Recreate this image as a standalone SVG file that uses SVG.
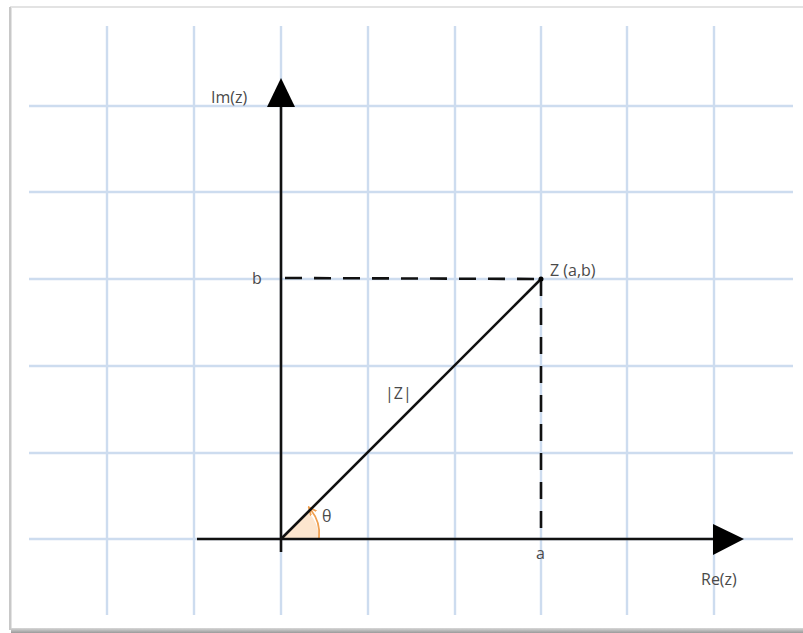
<svg xmlns="http://www.w3.org/2000/svg" width="803" height="633" viewBox="0 0 803 633">
<defs>
<style>
.grid{stroke:#cddcef;stroke-width:2.4;fill:none}
.axis{stroke:#111;stroke-width:2.6;fill:none}
.dash{stroke:#111;stroke-width:2.6;stroke-dasharray:17 12;fill:none}
.lbl{font-family:"Open Sans","Liberation Sans",sans-serif;font-size:16px;fill:#4a4a4a}
.head{fill:#000}
</style>
<linearGradient id="sb" x1="0" y1="0" x2="0" y2="1">
<stop offset="0" stop-color="#d8d8d8"/>
<stop offset="1" stop-color="#9a9a9a"/>
</linearGradient>
<marker id="oa" viewBox="0 0 10 10" refX="5" refY="5" markerWidth="5" markerHeight="5" orient="auto">
<path d="M0,1 L9,5 L0,9" fill="none" stroke="#f0a050" stroke-width="2"/>
</marker>
</defs>
<rect x="0" y="0" width="803" height="633" fill="#fff"/>
<g id="frame">
<rect x="11" y="7" width="800" height="622" fill="#fff" stroke="#e3e3e3" stroke-width="2"/>
<rect x="11" y="628" width="792" height="5" fill="url(#sb)"/>
<line x1="10" y1="7" x2="10" y2="630" stroke="#c8c8c8" stroke-width="2"/>
</g>
<g id="grid">
<line class="grid" x1="107" y1="26" x2="107" y2="615"/>
<line class="grid" x1="194" y1="26" x2="194" y2="615"/>
<line class="grid" x1="281" y1="26" x2="281" y2="615"/>
<line class="grid" x1="368" y1="26" x2="368" y2="615"/>
<line class="grid" x1="455" y1="26" x2="455" y2="615"/>
<line class="grid" x1="541" y1="26" x2="541" y2="615"/>
<line class="grid" x1="627" y1="26" x2="627" y2="615"/>
<line class="grid" x1="714" y1="26" x2="714" y2="615"/>
<line class="grid" x1="29" y1="106" x2="793" y2="106"/>
<line class="grid" x1="29" y1="192" x2="793" y2="192"/>
<line class="grid" x1="29" y1="279" x2="793" y2="279"/>
<line class="grid" x1="29" y1="366" x2="793" y2="366"/>
<line class="grid" x1="29" y1="453" x2="793" y2="453"/>
<line class="grid" x1="29" y1="539" x2="793" y2="539"/>
</g>
<g id="angle">
<path d="M281,539 L319,539 A38,38 0 0 0 308,512 Z" fill="#fde6cf"/>
<path d="M319,538 A38,38 0 0 0 311,510" fill="none" stroke="#f0a050" stroke-width="1.8" marker-end="url(#oa)"/>
</g>
<g id="connectors">
<line class="axis" x1="197" y1="539" x2="716" y2="539"/>
<polygon class="head" points="744,539 713,524 713,555"/>
<line class="axis" x1="281" y1="552" x2="281" y2="104"/>
<polygon class="head" points="281,78 267,107 295,107"/>
<line class="axis" x1="281" y1="539" x2="541" y2="279"/>
<line class="dash" x1="285" y1="278" x2="541" y2="279"/>
<line class="dash" x1="541" y1="279" x2="541" y2="539"/>
<circle cx="541" cy="279" r="2.5" fill="#000"/>
</g>
<g id="labels">
<text class="lbl" x="211" y="103">Im(z)</text>
<text class="lbl" x="252" y="284">b</text>
<text class="lbl" x="550" y="276">Z (a,b)</text>
<text class="lbl" x="385" y="399">|Z|</text>
<text class="lbl" x="322" y="522">θ</text>
<text class="lbl" x="536" y="559">a</text>
<text class="lbl" x="701" y="585">Re(z)</text>
</g>
</svg>
